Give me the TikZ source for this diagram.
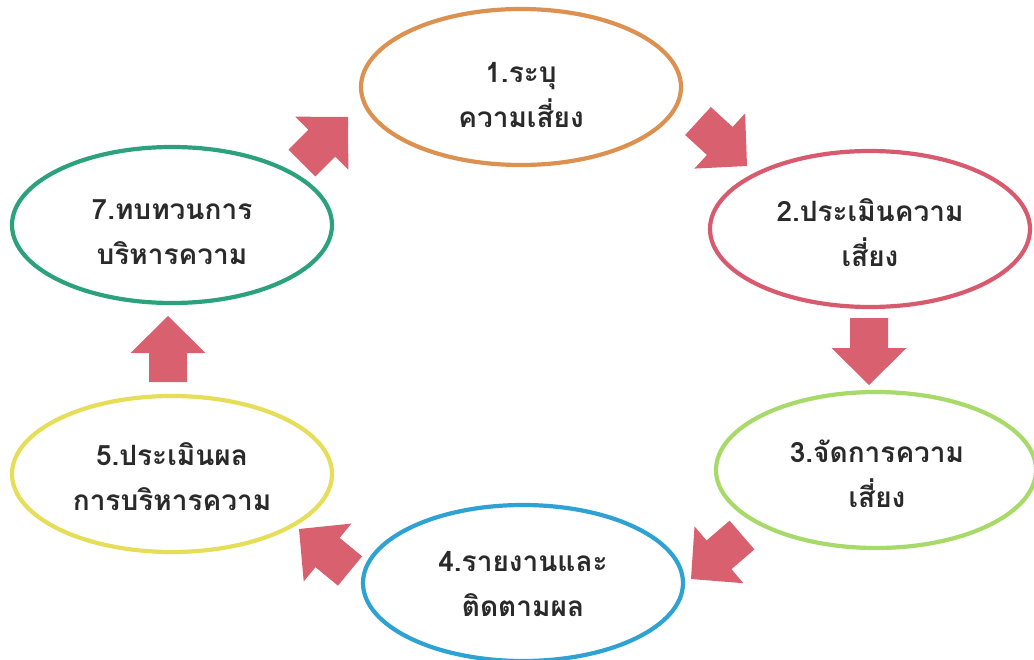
\documentclass[tikz,border=0pt]{standalone}
\usepackage{fontspec}
\newfontfamily\thaifont[Script=Thai]{Loma}
\usetikzlibrary{shapes.geometric,calc}
\definecolor{cOrange}{HTML}{DC9150}
\definecolor{cRed}{HTML}{D85A6E}
\definecolor{cLime}{HTML}{A8DA6A}
\definecolor{cBlue}{HTML}{2EA2D2}
\definecolor{cYellow}{HTML}{E6DE58}
\definecolor{cTeal}{HTML}{2BA27C}
\definecolor{cArrow}{HTML}{D9606F}
\definecolor{cText}{HTML}{2A2A2A}
\tikzset{
  stage/.style={ellipse, draw=#1, line width=4.2pt, inner sep=0pt,
    minimum width=320pt, minimum height=156pt},
  stagetext/.style={align=center, inner sep=0pt,
    text=cText, font=\thaifont\bfseries\fontsize{28}{45}\selectfont},
  blockfill/.style={fill=cArrow},
}
\newcommand{\blockarr}[2]{%
  \path ($(#2)!37pt!(#1)$) coordinate (hb);
  \fill[blockfill] ($(#1)!19pt!90:(#2)$) -- ($(hb)!19pt!-90:(#1)$)
    -- ($(hb)!37.5pt!-90:(#1)$) -- (#2) -- ($(hb)!37.5pt!90:(#1)$)
    -- ($(hb)!19pt!90:(#1)$) -- ($(#1)!19pt!-90:(#2)$) -- cycle;}
\begin{document}
\begin{tikzpicture}[x=1pt,y=-1pt]
\useasboundingbox (0,0) rectangle (1034,659);
\fill[white] (0,0) rectangle (1034,659);
\node[stage=cOrange] (s1) at (521,87) {};
\node[stage=cRed] (s2) at (870,229) {};
\node[stage=cLime] (s3) at (876,470) {};
\node[stage=cBlue] (s4) at (523,583) {};
\node[stage=cYellow] (s5) at (172,474) {};
\node[stage=cTeal] (s7) at (172,225) {};
\node[stagetext] (t1) at (521,95) {1.ระบุ\\ความเสี่ยง};
\node[stagetext] (t2) at (870,233) {2.ประเมินความ\\เสี่ยง};
\node[stagetext] (t3) at (877,474) {3.จัดการความ\\เสี่ยง};
\node[stagetext] (t4) at (523,584) {4.รายงานและ\\ติดตามผล};
\node[stagetext] (t5) at (172,477) {5.ประเมินผล\\การบริหารความ};
\node[stagetext] (t7) at (172,232) {7.ทบทวนการ\\บริหารความ};
% arrow end points
\coordinate (a1s) at (302,163); \coordinate (a1e) at (348,117);
\coordinate (a2s) at (698,121); \coordinate (a2e) at (747,166);
\coordinate (a3s) at (869,318); \coordinate (a3e) at (869,385);
\coordinate (a4s) at (742,535); \coordinate (a4e) at (691,579);
\coordinate (a5s) at (350,571); \coordinate (a5e) at (299,529);
\coordinate (a6s) at (168,382); \coordinate (a6e) at (168,316);
\blockarr{a1s}{a1e}
\blockarr{a2s}{a2e}
\blockarr{a3s}{a3e}
\blockarr{a4s}{a4e}
\blockarr{a5s}{a5e}
\blockarr{a6s}{a6e}
\end{tikzpicture}
\end{document}
